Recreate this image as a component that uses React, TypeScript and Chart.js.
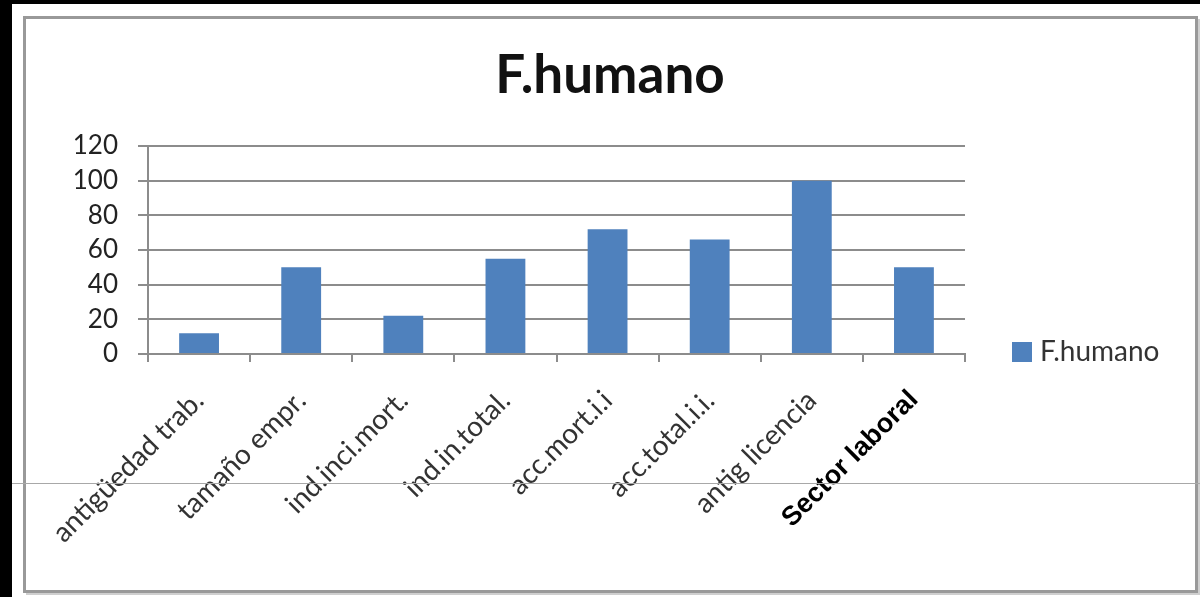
import React, { useEffect, useRef } from "react";
import { Chart, registerables } from "chart.js";

Chart.register(...registerables);

const chartTitle = "F.humano";
const seriesName = "F.humano";
const categories = [
  "antigüedad trab.",
  "tamaño empr.",
  "ind.inci.mort.",
  "ind.in.total.",
  "acc.mort.i.i",
  "acc.total.i.i.",
  "antig licencia",
  "Sector laboral",
];
const values = [12, 50, 22, 55, 72, 66, 100, 50];
const yTickValues = [0, 20, 40, 60, 80, 100, 120];

const BAR_COLOR = "#4F81BD";
const GRID_COLOR = "#8c8c8c";

const decorPlugin = {
  id: "decor",
  beforeDraw(chart: any) {
    const ctx = chart.ctx;
    ctx.save();
    // chart frame with soft shadow
    ctx.strokeStyle = "#cfcfcf";
    ctx.lineWidth = 2;
    ctx.beginPath();
    ctx.moveTo(1199, 19);
    ctx.lineTo(1199, 594);
    ctx.lineTo(26, 594);
    ctx.stroke();
    ctx.strokeStyle = "#999999";
    ctx.lineWidth = 3;
    ctx.strokeRect(24.5, 17.5, 1172, 574);
    // title
    ctx.font = "bold 53px Lato";
    ctx.fillStyle = "#111111";
    ctx.textAlign = "center";
    ctx.textBaseline = "alphabetic";
    ctx.fillText(chartTitle, 610, 93);
    // legend
    ctx.fillStyle = BAR_COLOR;
    ctx.fillRect(1012, 342, 20, 20);
    ctx.font = "28px Lato";
    ctx.fillStyle = "#333333";
    ctx.textAlign = "left";
    ctx.textBaseline = "middle";
    ctx.fillText(seriesName, 1040, 352);
    ctx.restore();
  },
  afterDraw(chart: any) {
    const ctx = chart.ctx;
    ctx.save();
    ctx.fillStyle = "#000000";
    ctx.fillRect(0, 0, 1200, 4);
    ctx.fillRect(0, 0, 12, 597);
    ctx.strokeStyle = "#a8a8a8";
    ctx.lineWidth = 1;
    ctx.beginPath();
    ctx.moveTo(12, 483.5);
    ctx.lineTo(1200, 483.5);
    ctx.stroke();
    ctx.restore();
  },
};

export default function App() {
  const canvasRef = useRef<HTMLCanvasElement | null>(null);

  useEffect(() => {
    if (!canvasRef.current) return;
    const chart = new Chart(canvasRef.current, {
      type: "bar",
      data: {
        labels: categories,
        datasets: [
          {
            label: seriesName,
            data: values,
            backgroundColor: BAR_COLOR,
            borderWidth: 0,
            barPercentage: 0.39,
            categoryPercentage: 1,
          },
        ],
      },
      options: {
        responsive: false,
        animation: false,
        layout: { padding: { left: 0, top: 146, right: 235, bottom: 0 } },
        plugins: {
          legend: { display: false },
          title: { display: false },
          tooltip: { enabled: false },
        },
        scales: {
          x: {
            offset: true,
            afterFit: (scale: any) => {
              scale.height = 243;
            },
            grid: {
              offset: true,
              drawOnChartArea: false,
              drawTicks: true,
              tickLength: 8,
              color: GRID_COLOR,
              lineWidth: 2,
            },
            border: { display: true, color: GRID_COLOR, width: 2 },
            ticks: {
              autoSkip: false,
              minRotation: 45,
              maxRotation: 45,
              padding: 22,
              color: (c: any) => (c.index === 7 ? "#000000" : "#333333"),
              font: (c: any) =>
                c.index === 7
                  ? { family: "Liberation Sans", size: 27, weight: "bold" }
                  : { family: "Lato", size: 28 },
            },
          },
          y: {
            min: 0,
            max: 120,
            afterBuildTicks: (scale: any) => {
              scale.ticks = yTickValues.map((v) => ({ value: v }));
            },
            afterFit: (scale: any) => {
              scale.width = 148;
            },
            grid: {
              drawTicks: true,
              tickLength: 10,
              color: GRID_COLOR,
              lineWidth: 2,
            },
            border: { display: true, color: GRID_COLOR, width: 2 },
            ticks: {
              padding: 20,
              color: "#222222",
              font: { family: "Lato", size: 26 },
            },
          },
        },
      },
      plugins: [decorPlugin],
    });
    return () => chart.destroy();
  }, []);

  return (
    <div style={{ position: "absolute", left: 0, top: 0, width: 1200, height: 597, background: "#ffffff" }}>
      <canvas ref={canvasRef} width={1200} height={597} style={{ display: "block" }} />
    </div>
  );
}
